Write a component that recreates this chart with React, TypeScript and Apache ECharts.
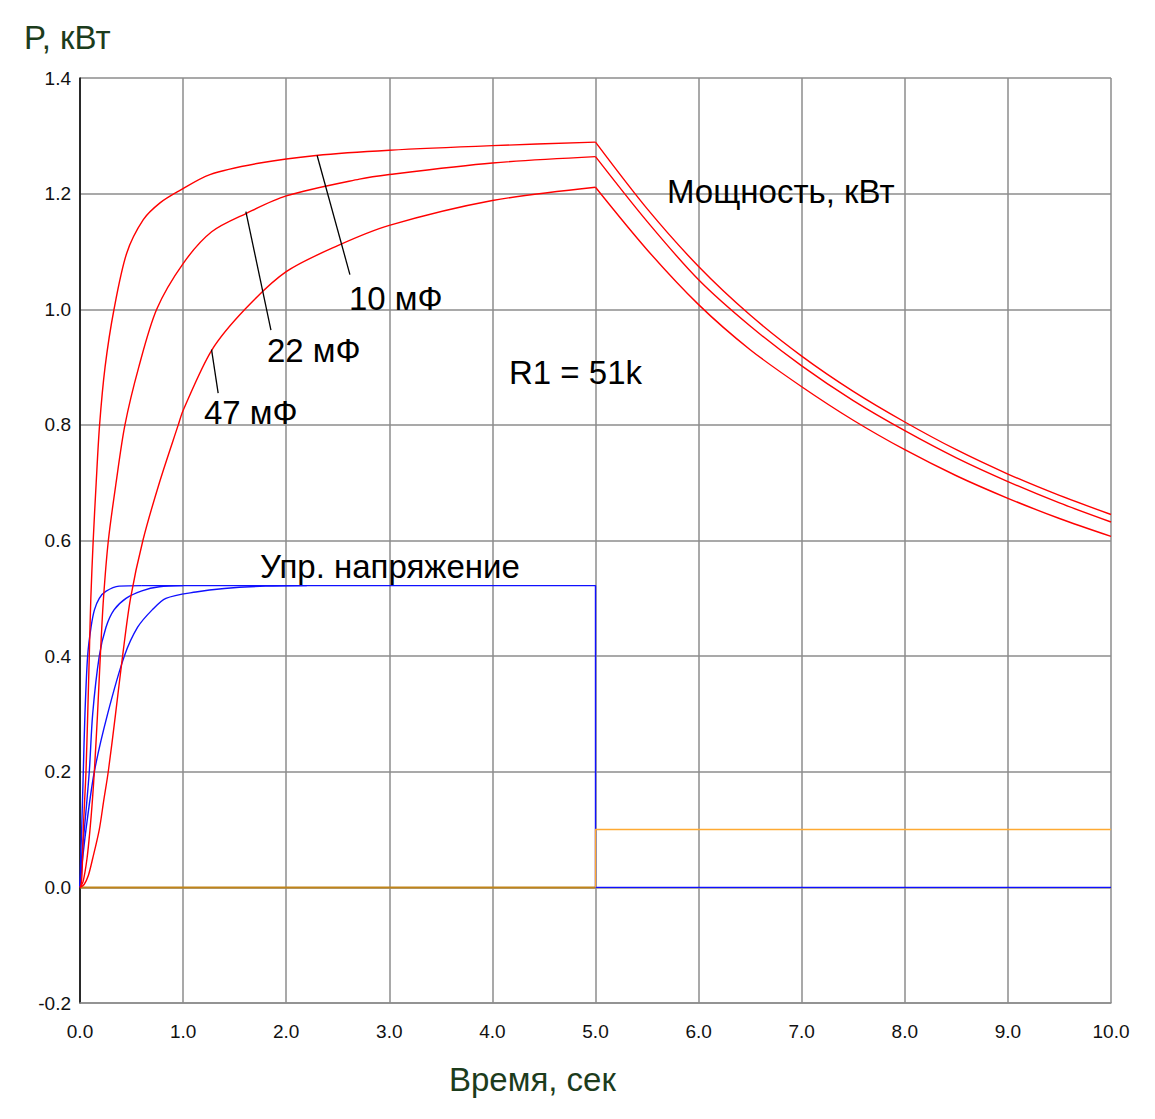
import React, { useEffect, useRef } from "react";
import * as echarts from "echarts";

// Power P (kW) vs time (s), three capacitors, R1 = 51k
const p10Rise: [number, number][] = [
  [0, 0], [0.01, 0.004], [0.02, 0.025], [0.032, 0.1], [0.045, 0.15], [0.058, 0.2], [0.075, 0.3],
  [0.09, 0.4], [0.105, 0.5], [0.128, 0.6], [0.157, 0.7], [0.19, 0.8], [0.243, 0.9], [0.33, 1.0],
  [0.453, 1.097], [0.614, 1.155], [0.776, 1.184], [0.953, 1.204], [1.26, 1.233], [1.745, 1.253],
  [2.29, 1.266], [3.0, 1.275], [4.0, 1.283], [5.0, 1.289],
];
const p22Rise: [number, number][] = [
  [0, 0], [0.03, 0.01], [0.068, 0.05], [0.097, 0.1], [0.12, 0.15], [0.139, 0.2], [0.17, 0.3],
  [0.197, 0.4], [0.228, 0.5], [0.275, 0.6], [0.35, 0.7], [0.436, 0.8], [0.57, 0.9], [0.744, 1.0],
  [1.0, 1.079], [1.277, 1.134], [1.615, 1.166], [2.0, 1.196], [2.71, 1.225], [3.0, 1.233],
  [4.0, 1.253], [5.0, 1.264],
];
const p47Rise: [number, number][] = [
  [0, 0], [0.04, 0.005], [0.08, 0.02], [0.123, 0.05], [0.187, 0.1], [0.23, 0.15], [0.274, 0.2],
  [0.345, 0.3], [0.413, 0.4], [0.49, 0.5], [0.61, 0.6], [0.77, 0.7], [0.953, 0.8], [1.0, 0.825],
  [1.277, 0.929], [1.6, 1.0], [2.0, 1.065], [2.5, 1.11], [3.0, 1.145], [4.0, 1.188], [5.0, 1.211],
];
const p10Fall: [number, number][] = [
  [5, 1.289], [5.5, 1.174], [6, 1.074], [6.5, 0.99], [7, 0.919], [7.5, 0.858], [8, 0.805],
  [8.5, 0.757], [9, 0.715], [9.5, 0.678], [10, 0.645],
];
const p22Fall: [number, number][] = [
  [5, 1.264], [5.5, 1.152], [6, 1.051], [6.5, 0.971], [7, 0.902], [7.5, 0.842], [8, 0.79],
  [8.5, 0.743], [9, 0.702], [9.5, 0.665], [10, 0.632],
];
const p47Fall: [number, number][] = [
  [5, 1.211], [5.5, 1.103], [6, 1.008], [6.5, 0.93], [7, 0.866], [7.5, 0.808], [8, 0.757],
  [8.5, 0.712], [9, 0.673], [9.5, 0.638], [10, 0.607],
];

// Control voltage (Упр. напряжение)
const u10Rise: [number, number][] = [
  [0, 0], [0.008, 0.06], [0.016, 0.1], [0.032, 0.2], [0.048, 0.3], [0.074, 0.4], [0.107, 0.45],
  [0.14, 0.48], [0.187, 0.5], [0.25, 0.512], [0.38, 0.521], [0.6, 0.522],
];
const u22Rise: [number, number][] = [
  [0, 0], [0.015, 0.05], [0.042, 0.1], [0.09, 0.2], [0.123, 0.3], [0.187, 0.4], [0.252, 0.45],
  [0.33, 0.48], [0.446, 0.5], [0.6, 0.513], [0.77, 0.52], [1.0, 0.522],
];
const u47Rise: [number, number][] = [
  [0, 0], [0.02, 0.04], [0.058, 0.1], [0.139, 0.2], [0.268, 0.3], [0.43, 0.4], [0.559, 0.45],
  [0.7, 0.48], [0.833, 0.5], [1.124, 0.511], [1.4, 0.517], [1.8, 0.521], [2.2, 0.522],
];
const uHold: [number, number][] = [[0.6, 0.522], [5, 0.522], [5, 0], [10, 0]];

// Orange trace: zero until 5 s, then 0.1
const orangeLow: [number, number][] = [[0, 0], [5, 0]];
const orangeHigh: [number, number][] = [[5, 0], [5, 0.1], [10, 0.1]];

// Leader lines of the capacitor labels (data coordinates)
const lead10: [number, number][] = [[2.3, 1.266], [2.618, 1.06]];
const lead22: [number, number][] = [[1.609, 1.169], [1.852, 0.964]];
const lead47: [number, number][] = [[1.276, 0.93], [1.34, 0.855]];

const FONT = '"Liberation Sans", Arial, Helvetica, sans-serif';
const RED = "#ff0000";
const BLUE = "#1010ff";
const ORANGE = "#ffaa33";
const ORANGE_DARK = "#c08418";
const GRID = "#8c8c8c";
const AXIS_NAME = "#1c3c1c";

export default function App() {
  const ref = useRef<HTMLDivElement>(null);

  useEffect(() => {
    if (!ref.current) return;
    const chart = echarts.init(ref.current, null, { renderer: "svg" });

    const curve = (data: [number, number][], color: string, smooth = true, width = 1.4) => ({
      type: "line",
      data,
      showSymbol: false,
      symbol: "none",
      smooth: smooth ? 0.3 : false,
      silent: true,
      lineStyle: { color, width },
      z: 3,
    });
    const leader = (data: [number, number][]) => ({
      type: "line",
      data,
      showSymbol: false,
      symbol: "none",
      silent: true,
      lineStyle: { color: "#000", width: 1.3 },
      z: 4,
    });

    const note = (text: string, x: number, y: number, size = 33, color = "#000") => ({
      type: "text",
      x,
      y,
      silent: true,
      z: 10,
      style: {
        text,
        fill: color,
        font: `${size}px ${FONT}`,
        align: "left",
        verticalAlign: "middle",
      },
    });

    chart.setOption({
      animation: false,
      backgroundColor: "#fff",
      textStyle: { fontFamily: FONT },
      grid: { left: 80, top: 78, right: 44, bottom: 116, containLabel: false },
      xAxis: {
        type: "value",
        min: 0,
        max: 10,
        interval: 1,
        axisLine: { show: true, onZero: false, lineStyle: { color: GRID, width: 1.5 } },
        axisTick: { show: false },
        axisLabel: {
          color: "#111",
          fontSize: 19,
          fontFamily: FONT,
          margin: 19,
          formatter: (v: number) => v.toFixed(1),
        },
        splitLine: { show: true, lineStyle: { color: GRID, width: 1.5 } },
      },
      yAxis: {
        type: "value",
        min: -0.2,
        max: 1.4,
        interval: 0.2,
        axisLine: { show: true, onZero: false, lineStyle: { color: "#000", width: 1.5 } },
        axisTick: { show: false },
        axisLabel: {
          color: "#111",
          fontSize: 19,
          fontFamily: FONT,
          margin: 9,
          formatter: (v: number) => (Math.abs(v) < 1e-9 ? "0.0" : v.toFixed(1)),
        },
        splitLine: { show: true, lineStyle: { color: GRID, width: 1.5 } },
      },
      series: [
        curve(orangeLow, ORANGE_DARK, false, 2),
        curve(uHold, BLUE, false),
        curve(orangeHigh, ORANGE, false),
        curve(u10Rise, BLUE),
        curve(u22Rise, BLUE),
        curve(u47Rise, BLUE),
        curve(p10Rise, RED),
        curve(p22Rise, RED),
        curve(p47Rise, RED),
        curve(p10Fall, RED),
        curve(p22Fall, RED),
        curve(p47Fall, RED),
        leader(lead10),
        leader(lead22),
        leader(lead47),
      ],
      graphic: [
        note("P, кВт", 24, 37, 33, AXIS_NAME),
        note("Время, сек", 449, 1079, 33, AXIS_NAME),
        note("10 мФ", 349, 298),
        note("22 мФ", 267, 350),
        note("47 мФ", 204, 412),
        note("R1 = 51k", 509, 372),
        note("Мощность, кВт", 667, 191),
        note("Упр. напряжение", 260, 566),
      ],
    });

    return () => chart.dispose();
  }, []);

  return (
    <div
      ref={ref}
      style={{ position: "absolute", left: 0, top: 0, width: 1155, height: 1119, background: "#fff" }}
    />
  );
}
